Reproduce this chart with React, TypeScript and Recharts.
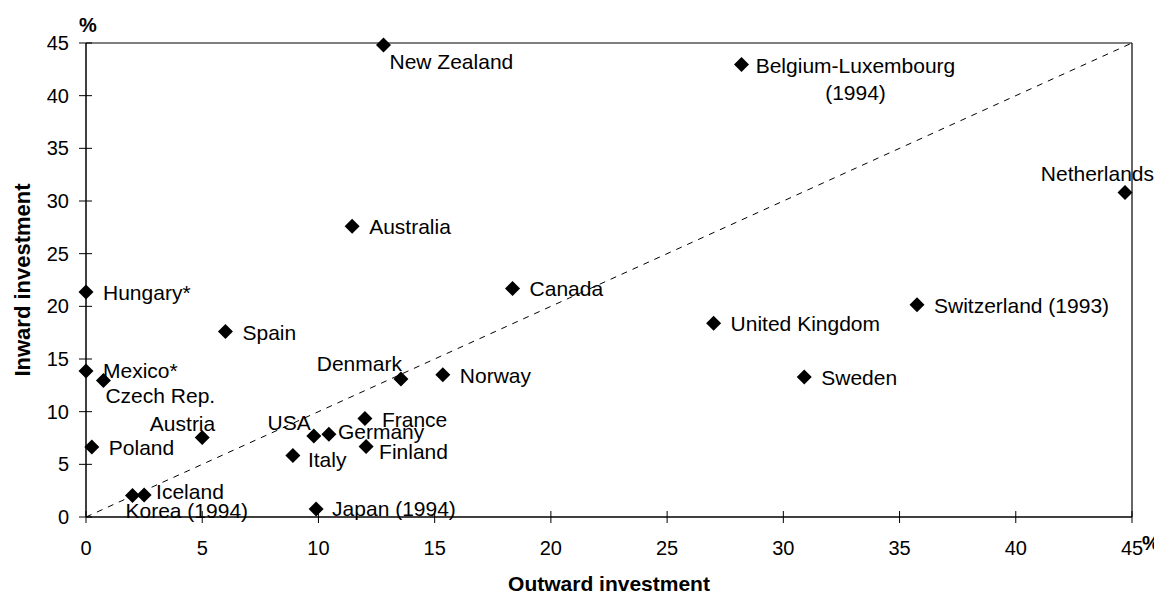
import React from 'react';
import { ScatterChart, Scatter, XAxis, YAxis, ReferenceLine, Label } from 'recharts';

const countries = [
  'New Zealand', 'Belgium-Luxembourg (1994)', 'Netherlands', 'Australia', 'Hungary*', 'Canada',
  'Switzerland (1993)', 'Spain', 'United Kingdom', 'Mexico*', 'Czech Rep.', 'Denmark', 'Norway',
  'Sweden', 'France', 'Austria', 'USA', 'Germany', 'Poland', 'Italy', 'Finland', 'Iceland',
  'Korea (1994)', 'Japan (1994)',
];
const outward = [12.8, 28.2, 44.7, 11.45, 0, 18.35, 35.75, 6.0, 27.0, 0, 0.75, 13.55, 15.35, 30.9, 12.0, 5.0, 9.8, 10.45, 0.25, 8.9, 12.05, 2.5, 2.0, 9.9];
const inward = [44.8, 42.95, 30.8, 27.6, 21.35, 21.7, 20.15, 17.6, 18.4, 13.85, 12.95, 13.1, 13.5, 13.3, 9.35, 7.55, 7.7, 7.85, 6.65, 5.85, 6.7, 2.1, 2.05, 0.75];
const axisTicks = [0, 5, 10, 15, 20, 25, 30, 35, 40, 45];

const FONT = '"Liberation Sans", Arial, sans-serif';
const W = 1154;
const H = 586;

// where each label sits relative to its marker
type Place = { dx: number; dy: number; anchor?: 'start' | 'middle' | 'end'; wrap?: boolean };
const placement: Record<string, Place> = {
  'New Zealand': { dx: 6, dy: 16 },
  'Belgium-Luxembourg (1994)': { dx: 114, dy: 0, anchor: 'middle', wrap: true },
  Netherlands: { dx: 29, dy: -20, anchor: 'end' },
  'Czech Rep.': { dx: 2, dy: 14 },
  Denmark: { dx: 1, dy: -16, anchor: 'end' },
  Austria: { dx: 13, dy: -14, anchor: 'end' },
  USA: { dx: -3, dy: -14, anchor: 'end' },
  Germany: { dx: 9, dy: -3 },
  Italy: { dx: 15, dy: 4 },
  Finland: { dx: 13, dy: 5 },
  Iceland: { dx: 12, dy: -4 },
  'Korea (1994)': { dx: -7, dy: 15 },
  'Japan (1994)': { dx: 16, dy: -1 },
  'Mexico*': { dx: 17, dy: -1 },
};

const points = countries.map((name, i) => ({ name, outward: outward[i], inward: inward[i] }));

const renderPoint = (props: any) => {
  const { cx, cy, payload } = props;
  const p = placement[payload.name] || { dx: 17, dy: 0 };
  const r = 7.5;
  const lines = p.wrap ? payload.name.replace(' (', '\n(').split('\n') : [payload.name];
  return (
    <g>
      <path d={`M${cx},${cy - r}L${cx + r},${cy}L${cx},${cy + r}L${cx - r},${cy}Z`} fill="#000" />
      <text
        x={cx + p.dx}
        y={cy + p.dy}
        textAnchor={p.anchor || 'start'}
        dominantBaseline="central"
        fontSize={21}
        fontFamily={FONT}
        fill="#000"
      >
        {lines.map((l: string, k: number) => (
          <tspan key={k} x={cx + p.dx} dy={k === 0 ? 0 : 27}>{l}</tspan>
        ))}
      </text>
    </g>
  );
};

const XTick = (props: any) => {
  const { x, y, payload } = props;
  const axisY = y - 8;
  return (
    <g>
      <line x1={x} x2={x} y1={axisY - 6} y2={axisY + 6} stroke="#000" strokeWidth={1} />
      <text x={x} y={axisY + 31} textAnchor="middle" dominantBaseline="central" fontSize={20} fontFamily={FONT} fill="#000">
        {payload.value}
      </text>
    </g>
  );
};

const YTick = (props: any) => {
  const { x, y, payload } = props;
  const axisX = x + 8;
  return (
    <g>
      <line x1={axisX - 7} x2={axisX + 6} y1={y} y2={y} stroke="#000" strokeWidth={1} />
      <text x={axisX - 17} y={y} textAnchor="end" dominantBaseline="central" fontSize={20} fontFamily={FONT} fill="#000">
        {payload.value}
      </text>
    </g>
  );
};

const XTitle = (props: any) => {
  const { x, y, width } = props.viewBox;
  return (
    <g fontFamily={FONT} fontWeight="bold" fill="#000">
      <text x={x + width / 2} y={y + 66} textAnchor="middle" dominantBaseline="central" fontSize={21}>
        Outward investment
      </text>
      <text x={x + width + 19} y={y + 26} textAnchor="middle" dominantBaseline="central" fontSize={20}>
        %
      </text>
    </g>
  );
};

const YTitle = (props: any) => {
  const { x, y, width, height } = props.viewBox;
  const tx = x - 4;
  const ty = y + height / 2;
  return (
    <g fontFamily={FONT} fontWeight="bold" fill="#000">
      <text x={tx} y={ty} transform={`rotate(-90, ${tx}, ${ty})`} textAnchor="middle" dominantBaseline="central" fontSize={22}>
        Inward investment
      </text>
      <text x={x + width + 2} y={y - 18} textAnchor="middle" dominantBaseline="central" fontSize={20}>
        %
      </text>
    </g>
  );
};

export default function App() {
  return (
    <div style={{ width: W, height: H, fontFamily: FONT }}>
      <ScatterChart width={W} height={H} margin={{ top: 35, right: 30, bottom: 27, left: 18 }}>
        <XAxis
          type="number"
          dataKey="outward"
          domain={[0, 45]}
          ticks={axisTicks}
          interval={0}
          height={50}
          tickSize={6}
          tickMargin={2}
          tickLine={false}
          axisLine={{ stroke: '#000', strokeWidth: 1.5 }}
          tick={<XTick />}
        >
          <Label content={<XTitle />} />
        </XAxis>
        <YAxis
          type="number"
          dataKey="inward"
          domain={[0, 45]}
          ticks={axisTicks}
          interval={0}
          width={60}
          tickSize={6}
          tickMargin={2}
          tickLine={false}
          axisLine={{ stroke: '#000', strokeWidth: 1.5 }}
          tick={<YTick />}
        >
          <Label content={<YTitle />} />
        </YAxis>
        <ReferenceLine y={45} stroke="#000" strokeWidth={1.2} />
        <ReferenceLine x={45} stroke="#000" strokeWidth={1.2} />
        <ReferenceLine
          segment={[{ x: 0, y: 0 }, { x: 45, y: 45 }]}
          stroke="#000"
          strokeWidth={1}
          strokeDasharray="6 6"
        />
        <Scatter data={points} shape={renderPoint} isAnimationActive={false} />
      </ScatterChart>
    </div>
  );
}
